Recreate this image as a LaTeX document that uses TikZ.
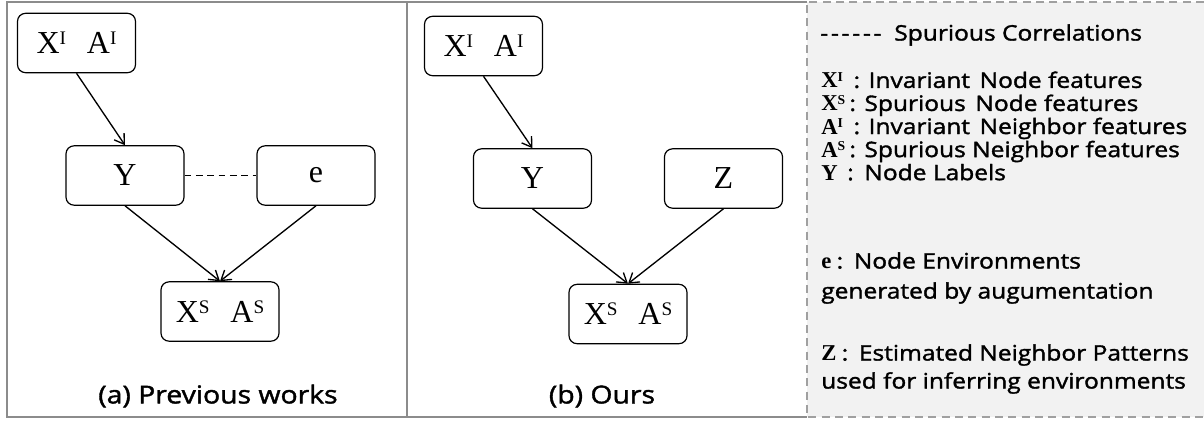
\documentclass[tikz,border=0pt]{standalone}
\usepackage{fontspec}
\usepackage{graphicx}
\setmainfont{Liberation Serif}
\newfontfamily\uifont{Open Sans}[FakeBold=1.6,FakeStretch=1.15]
\usetikzlibrary{arrows.meta}
\definecolor{panelgray}{HTML}{8C8C8C}
\definecolor{legendfill}{HTML}{F2F2F2}
\definecolor{legendline}{HTML}{A0A0A0}
% legend lines keep an exact baseline distance
\newcommand{\tightlines}{\lineskiplimit=-50pt\relax}
\newcommand{\legendsize}[1]{\uifont\fontsize{16}{#1}\selectfont\tightlines}
\tikzset{
  var/.style={draw=black, line width=0.9pt, rounded corners=6pt, fill=white,
    minimum width=88.5pt, minimum height=44.5pt, inner sep=0pt,
    font=\fontsize{24}{28}\selectfont},
  causal/.style={line width=1pt, -{Straight Barb[length=7pt,width=9pt]}},
  spurious/.style={line width=1.1pt, dash pattern=on 5pt off 3.5pt},
  caption/.style={font=\uifont\fontsize{18.5}{22}\selectfont},
  legend/.style={anchor=west, inner sep=0pt, align=left},
}
% small superscript whose top sits level with the capitals
\newcommand{\sups}[1]{\raisebox{0.62ex}{\scalebox{0.6}{#1}}}
\newcommand{\sym}[1]{{\fontsize{17}{19}\selectfont\rmfamily\bfseries #1}}
\newcommand{\hy}{-\kern0.13em}
\begin{document}
\begin{tikzpicture}[x=0.75pt,y=-0.75pt]
\useasboundingbox (0,0) rectangle (1204,421);

% legend panel
\fill[legendfill] (807,2) rectangle (1204,417);
\draw[legendline, line width=1.5pt, dash pattern=on 6pt off 4pt]
  (1204,2) -- (807,2) -- (807,417) -- (1204,417);

% two model panels
\draw[panelgray, line width=1.5pt] (807,2) -- (7,2) -- (7,417) -- (807,417);
\draw[panelgray, line width=1.5pt] (407,2) -- (407,417);

% (a) previous works
\node[var] (xa) at (76.5,43) {X\sups{I}\hspace{0.65em}A\sups{I}};
\node[var] (ya) at (125,175.5) {Y};
\node[var] (ea) at (316,175.5) {e};
\node[var] (sa) at (220,311.5) {X\sups{S}\hspace{0.65em}A\sups{S}};
\draw[causal] (xa.south) -- (ya.north);
\draw[causal] (ya.south) -- (sa.north);
\draw[causal] (ea.south) -- (sa.north);
\draw[spurious] (ya.east) -- (ea.west);
\node[caption] (capa) at (218,396) {(a) Previous works};

% (b) ours
\node[var] (xb) at (483.5,46) {X\sups{I}\hspace{0.65em}A\sups{I}};
\node[var] (yb) at (532.5,178.5) {Y};
\node[var] (zb) at (723.5,178.5) {Z};
\node[var] (sb) at (628,314) {X\sups{S}\hspace{0.65em}A\sups{S}};
\draw[causal] (xb.south) -- (yb.north);
\draw[causal] (yb.south) -- (sb.north);
\draw[causal] (zb.south) -- (sb.north);
\node[caption] (capb) at (602,396) {(b) Ours};

% legend entries
\node[legend, font=\legendsize{22}] (l0) at (820,35)
  {\hy\hy\hy\hy\hy-\hspace{0.6em}Spurious Correlations};
\node[legend, font=\legendsize{17.3}] (l1) at (821,126)
  {\sym{X\sups{I}}\hspace{0.5em}: Invariant\hspace{0.45em}Node features\\
   \sym{X\sups{S}}\hspace{0.2em}: Spurious\hspace{0.45em}Node features\\
   \sym{A\sups{I}}\hspace{0.5em}: Invariant\hspace{0.45em}Neighbor features\\
   \sym{A\sups{S}}\hspace{0.2em}: Spurious Neighbor features\\
   \sym{Y}\hspace{0.45em}:\hspace{0.5em}Node Labels};
\node[legend, font=\legendsize{22.5}] (l2) at (821,278)
  {\sym{e}\hspace{0.25em}:\hspace{0.5em}Node Environments\\
   generated by augumentation};
\node[legend, font=\legendsize{21}] (l3) at (821,369)
  {\sym{Z}\hspace{0.25em}:\hspace{0.5em}Estimated Neighbor Patterns\\
   used for inferring environments};
\end{tikzpicture}
\end{document}
